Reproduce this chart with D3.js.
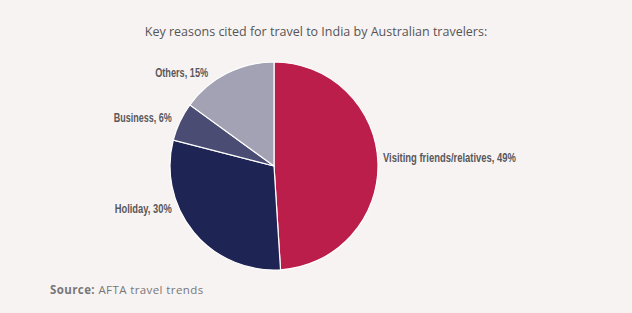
<!DOCTYPE html>
<html>
<head>
<meta charset="utf-8">
<script src="https://cdn.jsdelivr.net/npm/d3@7"></script>
<style>
  body { margin: 0; background: #f8f3f3; }
  svg { display: block; }
  .lbl { font-family: "Liberation Sans", "DejaVu Sans", sans-serif; font-weight: bold; fill: #58585a; font-size: 13.5px; }
</style>
</head>
<body>
<svg id="chart" width="632" height="313"></svg>
<script>
// data
var categories = ['Visiting friends/relatives', 'Holiday', 'Business', 'Others'];
var shares = [49, 30, 6, 15];
var colors = ['#bb1e4b', '#1e2453', '#4a4c73', '#a3a2b4'];

var W = 632, H = 313;
var cx = 274, cy = 166, r = 104;

var svg = d3.select('#chart');
svg.append('rect').attr('width', W).attr('height', H).attr('fill', '#f8f3f3');

// title
svg.append('text')
	.attr('x', 316).attr('y', 36)
	.attr('text-anchor', 'middle')
	.style('font-family', '"Open Sans", sans-serif')
	.style('font-size', '12.5px')
	.style('fill', '#555')
	.text('Key reasons cited for travel to India by Australian travelers:');

var data = categories.map(function(c, i){ return {name: c, value: shares[i], color: colors[i]}; });

var pie = d3.pie().value(function(d){ return d.value; }).sort(null);
var arc = d3.arc().innerRadius(0).outerRadius(r);
var arcs = pie(data);

var g = svg.append('g').attr('transform', 'translate(' + cx + ',' + cy + ')');
g.selectAll('path')
	.data(arcs)
	.enter().append('path')
	.attr('d', arc)
	.attr('fill', function(d){ return d.data.color; })
	.attr('stroke', '#ffffff')
	.attr('stroke-width', 1.2);

// labels: outside the pie along the mid angle, then nudged like the original
// the original font is a narrow bold face, so squeeze the text to its width
var labelAnchor = ['start', 'end', 'end', 'end'];
var nudge = [[-3, 0], [-16, -24], [-1, 4], [-15, 11]];
var labelWidths = [133, 57, 58, 53];
var lr = r + 8;
g.selectAll('text.lbl')
	.data(arcs)
	.enter().append('text')
	.attr('class', 'lbl')
	.attr('x', function(d, i){
		var mid = (d.startAngle + d.endAngle) / 2;
		return Math.sin(mid) * lr + nudge[i][0];
	})
	.attr('y', function(d, i){
		var mid = (d.startAngle + d.endAngle) / 2;
		return -Math.cos(mid) * lr + nudge[i][1];
	})
	.attr('text-anchor', function(d, i){ return labelAnchor[i]; })
	.attr('textLength', function(d, i){ return labelWidths[i]; })
	.attr('lengthAdjust', 'spacingAndGlyphs')
	.text(function(d){ return d.data.name + ', ' + d.data.value + '%'; });

// source line
var src = svg.append('text')
	.attr('x', 50).attr('y', 294)
	.style('font-family', '"Open Sans", sans-serif')
	.style('font-size', '11.5px')
	.style('letter-spacing', '0.4px')
	.style('fill', '#777');
src.append('tspan').style('font-weight', 'bold').text('Source:');
src.append('tspan').text(' AFTA travel trends');
</script>
</body>
</html>
